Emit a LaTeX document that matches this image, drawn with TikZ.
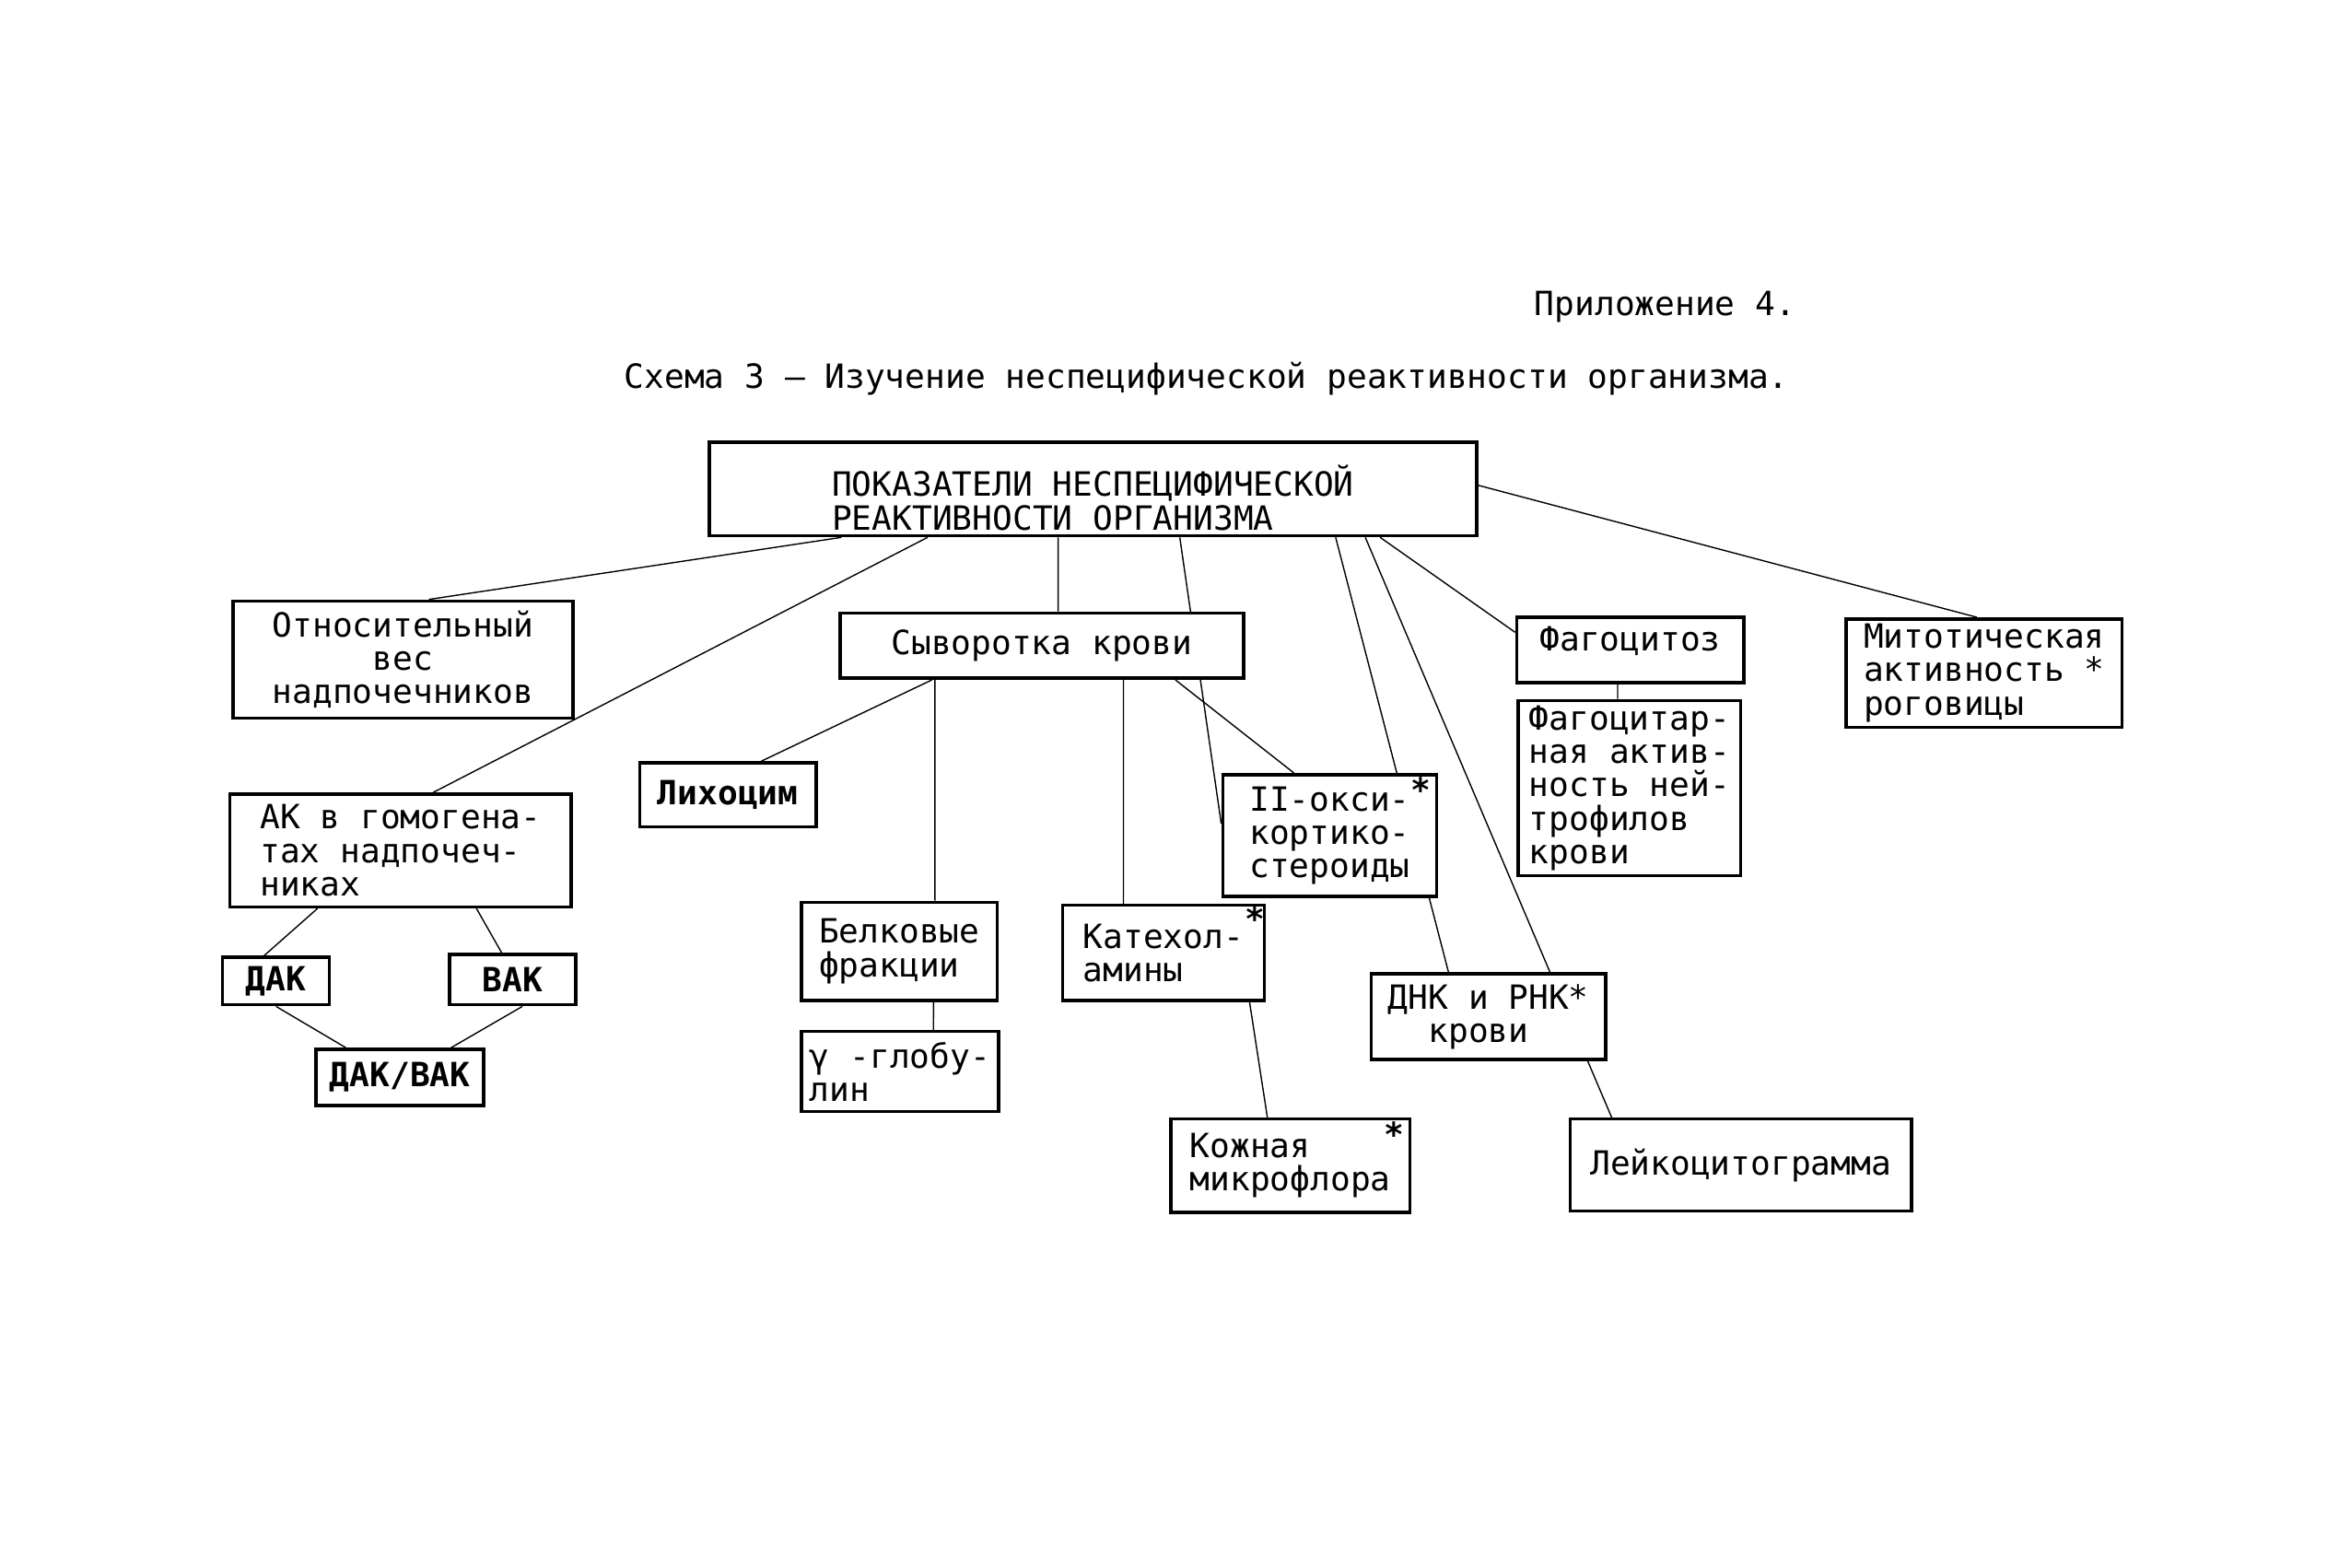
\documentclass[tikz,border=0pt]{standalone}
\usepackage{fontspec}
\setmonofont{DejaVu Sans Mono}
\usetikzlibrary{backgrounds}

\begin{document}
\begin{tikzpicture}[
    x=0.1611mm, y=-0.1611mm,
    font=\ttfamily\fontsize{10.3}{10.3}\selectfont, line width=1pt,
    box/.style={draw, fill=white, align=left, inner sep=0pt},
    sz/.style 2 args={minimum width=#1, minimum height=#2},
    heavy/.style={font=\ttfamily\bfseries\fontsize{10.3}{10.3}\selectfont},
    starred/.style 2 args={label={[anchor=center, xshift=#1, yshift=#2, inner sep=0pt, heavy]north east:*}},
    starred/.default={-1.9mm}{-1.8mm}]
    \useasboundingbox (0,0) rectangle (1568,1056);
    % headings
    \node (app) at (1122,207) {Приложение 4.};
    \node (ttl) at (813,255) {Схема 3 – Изучение неспецифической реактивности организма.};
    % top box
    \node[box, sz={83.29mm}{10.15mm}] (main) at (736.5,329.5) {\rule{0pt}{15pt}ПОКАЗАТЕЛИ НЕСПЕЦИФИЧЕСКОЙ\\РЕАКТИВНОСТИ ОРГАНИЗМА};
    % second row
    \node[box, align=center, sz={36.89mm}{12.73mm}] (otn) at (271.5,444.5) {Относительный\\вес\\надпочечников};
    \node[box, sz={43.82mm}{7.09mm}] (syv) at (702,435) {Сыворотка крови};
    \node[box, text height=7.5pt, text depth=7pt, sz={24.65mm}{7.09mm}] (fag) at (1098.5,438) {Фагоцитоз};
    \node[box, sz={29.96mm}{11.76mm}] (mit) at (1337,453.5) {Митотическая\\активность *\\роговицы};
    \node[box, sz={24.17mm}{19.01mm}] (fgt) at (1098,531) {Фагоцитар-\\ная актив-\\ность ней-\\трофилов\\крови};
    % lower rows
    \node[box, sz={37.05mm}{12.24mm}] (ak) at (270,573) {АК в гомогена-\\тах надпочеч-\\никах};
    \node[box, heavy, sz={19.17mm}{6.93mm}] (lih) at (490.5,535.5) {Лихоцим};
    \node[box, starred, sz={23.20mm}{13.21mm}] (ok) at (896,563) {II-окси-\\кортико-\\стероиды};
    \node[box, sz={21.27mm}{10.63mm}] (bel) at (606,641) {Белковые\\фракции};
    \node[box, starred={-1.2mm}{-1.6mm}, sz={21.91mm}{10.31mm}] (kat) at (784,642) {Катехол-\\амины};
    \node[box, heavy, sz={11.60mm}{5.16mm}] (dak) at (186,661) {ДАК};
    \node[box, heavy, sz={13.69mm}{5.48mm}] (vak) at (345.5,660) {ВАК};
    \node[box, heavy, sz={18.20mm}{6.12mm}] (dv) at (269.5,726) {ДАК/ВАК};
    \node[box, sz={21.43mm}{8.70mm}] (gam) at (606.5,722) {γ -глобу-\\лин};
    \node[box, sz={25.45mm}{9.34mm}] (dnk) at (1003,685) {ДНК и РНК*\\ \phantom{ДН}крови};
    \node[box, starred, sz={25.94mm}{10.15mm}] (koz) at (869.5,785.5) {Кожная\\микрофлора};
    \node[box, sz={37.05mm}{9.99mm}] (lei) at (1173,785) {Лейкоцитограмма};
    % connectors run behind the boxes
    \begin{scope}[on background layer]
    \fill[white] (0,0) rectangle (1568,1056);
    \draw ([xshift=-27.31mm]main.south) -- ([xshift=2.82mm]otn.north);
    \draw ([xshift=-17.96mm]main.south) -- ([xshift=3.54mm]ak.north);
    \draw ([xshift=-3.79mm]main.south) -- ([xshift=1.77mm]syv.north);
    \draw ([xshift=9.42mm]main.south) -- ([yshift=1.29mm]ok.west);
    \draw ([xshift=26.34mm]main.south) -- ([xshift=-4.35mm]dnk.north);
    \draw ([xshift=29.56mm]main.south) -- ([xshift=-14.02mm]lei.north);
    \draw ([xshift=31.17mm]main.south) -- ([yshift=1.93mm]fag.west);
    \draw ([yshift=0.4mm]main.east) -- ([xshift=-0.8mm]mit.north);
    \draw ([xshift=-11.92mm]syv.south) -- ([xshift=3.62mm]lih.north);
    \draw ([xshift=-11.60mm]syv.south) -- ([xshift=3.87mm]bel.north);
    \draw ([xshift=8.86mm]syv.south) -- ([xshift=-4.35mm]kat.north);
    \draw ([xshift=14.5mm]syv.south) -- ([xshift=-3.87mm]ok.north);
    \draw ([xshift=3.71mm]bel.south) -- ([xshift=3.62mm]gam.north);
    \draw ([xshift=9.34mm]kat.south) -- ([xshift=-2.50mm]koz.north);
    \draw ([xshift=-1.37mm]fag.south) -- ([xshift=-1.29mm]fgt.north);
    \draw ([xshift=-9.02mm]ak.south) -- ([xshift=-1.29mm]dak.north);
    \draw ([xshift=8.22mm]ak.south) -- ([xshift=-1.21mm]vak.north);
    \draw (dak.south) -- ([xshift=-5.88mm]dv.north);
    \draw ([xshift=1.05mm]vak.south) -- ([xshift=5.56mm]dv.north);
    \end{scope}
\end{tikzpicture}
\end{document}
